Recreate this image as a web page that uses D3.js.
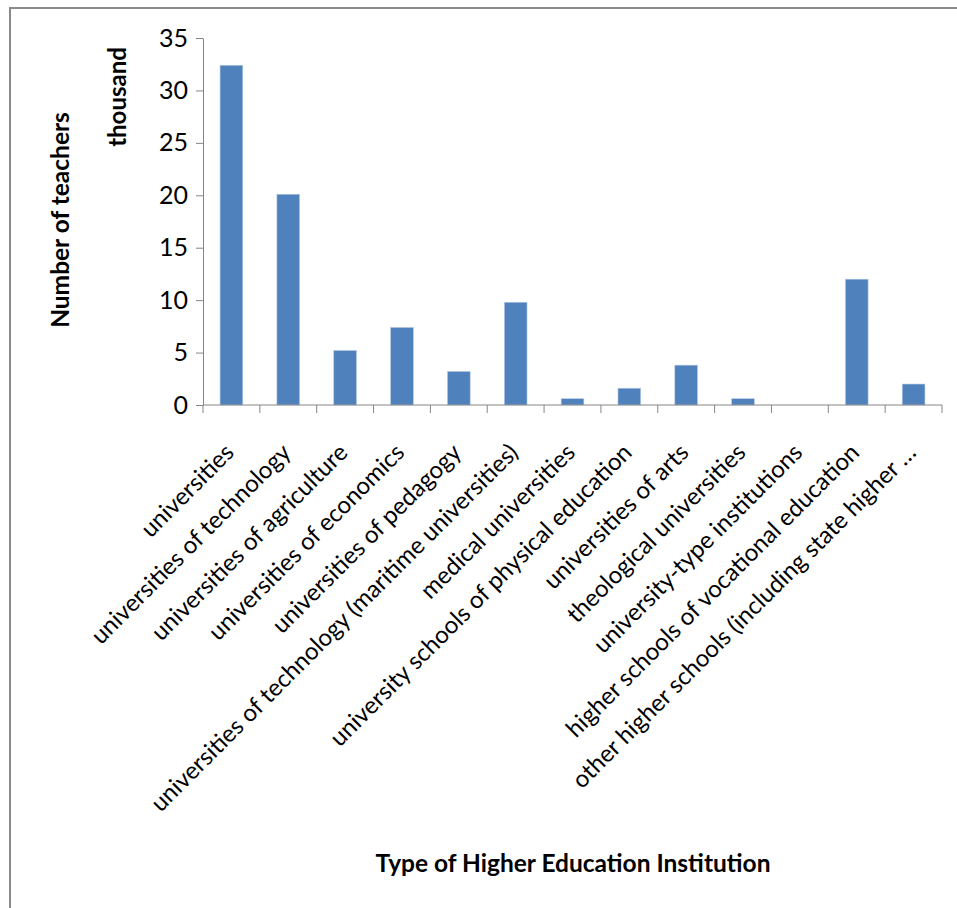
<!DOCTYPE html>
<html lang="en">
<head>
<meta charset="UTF-8">
<title>Teachers by type of institution</title>
<script src="https://d3js.org/d3.v7.min.js"></script>
<style>
  body { margin: 0; background: #fff; }
  text { font-family: Lato, "Open Sans", sans-serif; fill: #000; }
</style>
</head>
<body>
<script>

// data (thousand teachers)
var categories = [
  "universities",
  "universities of technology",
  "universities of agriculture",
  "universities of economics",
  "universities of pedagogy",
  "universities of technology (maritime universities)",
  "medical universities",
  "university schools of physical education",
  "universities of arts",
  "theological universities",
  "university-type institutions",
  "higher schools of vocational education",
  "other higher schools (including state higher \u2026"
];
var values = [32.4, 20.1, 5.2, 7.4, 3.2, 9.8, 0.6, 1.6, 3.8, 0.6, 0, 12.0, 2.0];
var yTicks = [0, 5, 10, 15, 20, 25, 30, 35];

var width = 957,
    height = 908,
    margin = {top: 38, left: 203, right: 15, bottom: 503};

var innerW = width - margin.left - margin.right,
    innerH = height - margin.top - margin.bottom;

var svg = d3.select("body").append("svg")
    .attr("width", width)
    .attr("height", height);

// chart frame (only top and left edges are inside the picture)
svg.append("rect")
    .attr("x", 10).attr("y", 8)
    .attr("width", width + 20).attr("height", height + 20)
    .attr("fill", "none")
    .attr("stroke", "#8a8a8a")
    .attr("stroke-width", 2);

var g = svg.append("g")
    .attr("transform", "translate(" + margin.left + "," + margin.top + ")");

var x = d3.scaleBand()
    .domain(categories)
    .range([0, innerW])
    .paddingInner(0.6)
    .paddingOuter(0.3);

var y = d3.scaleLinear()
    .domain([0, 35])
    .range([innerH, 0]);

// bars
g.selectAll(".bar")
    .data(values)
    .enter().append("rect")
    .attr("class", "bar")
    .attr("x", function(d, i) { return x(categories[i]); })
    .attr("y", function(d) { return y(d); })
    .attr("width", x.bandwidth())
    .attr("height", function(d) { return innerH - y(d); })
    .attr("fill", "#4f81bd")
    .attr("stroke", "#b9cde5")
    .attr("stroke-width", 0.6);

// y axis
var yAxis = g.append("g")
    .call(d3.axisLeft(y).tickValues(yTicks).tickSize(7).tickPadding(8).tickSizeOuter(0));
yAxis.select(".domain").attr("stroke", "#868686");
yAxis.selectAll(".tick line").attr("stroke", "#868686");
yAxis.selectAll(".tick text")
    .style("font-size", "25px")
    .attr("fill", "#000");

// x axis: ticks between categories
var xb = d3.scaleLinear().domain([0, categories.length]).range([0, innerW]);
var xAxis = g.append("g")
    .attr("transform", "translate(0," + innerH + ")");
xAxis.append("line")
    .attr("x1", 0).attr("x2", innerW)
    .attr("stroke", "#868686");
xAxis.selectAll(".xt")
    .data(d3.range(categories.length + 1))
    .enter().append("line")
    .attr("x1", function(d) { return xb(d); })
    .attr("x2", function(d) { return xb(d); })
    .attr("y1", 0).attr("y2", 8)
    .attr("stroke", "#868686");

xAxis.selectAll(".xl")
    .data(categories)
    .enter().append("text")
    .attr("class", "xl")
    .attr("text-anchor", "end")
    .attr("transform", function(d) {
        var cx = x(d) + x.bandwidth() / 2 + 4;
        return "translate(" + cx + ",49) rotate(-45)";
    })
    .style("font-size", "24px")
    .text(function(d) { return d; });

// axis titles
svg.append("text")
    .attr("transform", "translate(69,220) rotate(-90)")
    .attr("text-anchor", "middle")
    .style("font-size", "24.5px")
    .style("font-weight", "bold")
    .text("Number of teachers");

svg.append("text")
    .attr("transform", "translate(126,97) rotate(-90)")
    .attr("text-anchor", "middle")
    .style("font-size", "24px")
    .style("font-weight", "bold")
    .text("thousand");

svg.append("text")
    .attr("x", 573)
    .attr("y", 872)
    .attr("text-anchor", "middle")
    .style("font-size", "24.5px")
    .style("font-weight", "bold")
    .text("Type of Higher Education Institution");

</script>
</body>
</html>
